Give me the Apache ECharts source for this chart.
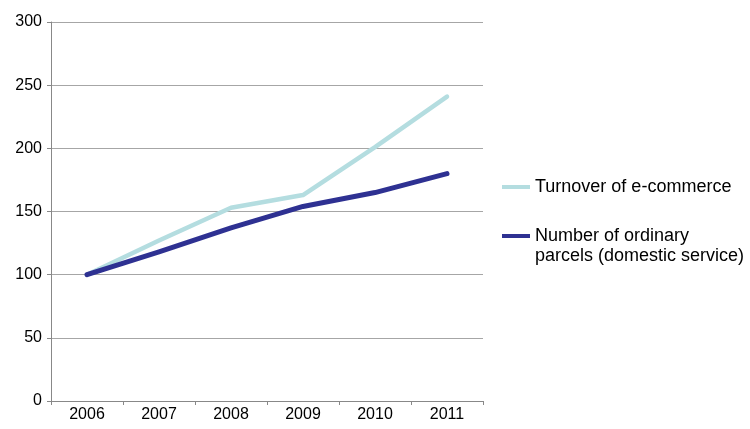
<!DOCTYPE html>
<html>
<head>
<meta charset="utf-8">
<script src="https://cdn.jsdelivr.net/npm/echarts@6/dist/echarts.min.js"></script>
<style>
  html, body { margin: 0; padding: 0; background: #fff; }
  #chart { width: 750px; height: 429px; }
</style>
</head>
<body>
<div id="chart"></div>
<script>
var years = ['2006', '2007', '2008', '2009', '2010', '2011'];
var turnover = [100, 127, 153, 163, 201, 241];
var parcels = [100, 118, 137, 154, 165, 180];

var chart = echarts.init(document.getElementById('chart'));

var font = 'Liberation Sans, Arial, sans-serif';

var option = {
    animation: false,
    grid: { left: 51, right: 267, top: 22, bottom: 28 },
    legend: [
        {
            data: ['Turnover of e-commerce'],
            left: 502, top: 178, padding: 0,
            itemWidth: 28, itemHeight: 4,
            icon: 'rect',
            textStyle: { fontFamily: font, fontSize: 18, color: '#000' }
        },
        {
            data: ['Number of ordinary parcels'],
            left: 502, top: 206, padding: 0,
            itemWidth: 28, itemHeight: 4,
            icon: 'rect',
            // blank first line keeps the icon level with "Number of ordinary"
            formatter: function () {
                return '\nNumber of ordinary\nparcels (domestic service)';
            },
            textStyle: { fontFamily: font, fontSize: 18, color: '#000', lineHeight: 20 }
        }
    ],
    xAxis: {
        type: 'category',
        data: years,
        boundaryGap: true,
        axisLine: { lineStyle: { color: '#888', width: 1 } },
        axisTick: { show: true, length: 4, lineStyle: { color: '#888' } },
        axisLabel: { fontFamily: font, fontSize: 16, color: '#000', margin: 6 },
        splitLine: { show: false }
    },
    yAxis: {
        type: 'value',
        min: 0, max: 300, interval: 50,
        axisLine: { show: true, lineStyle: { color: '#888', width: 1 } },
        axisTick: { show: true, length: 4, lineStyle: { color: '#888' } },
        axisLabel: { fontFamily: font, fontSize: 16, color: '#000', margin: 9 },
        splitLine: { lineStyle: { color: '#a6a6a6', width: 1 } }
    },
    series: [
        {
            name: 'Turnover of e-commerce',
            type: 'line',
            data: turnover,
            symbol: 'none',
            color: '#b4dde0',
            lineStyle: { width: 4.5, color: '#b4dde0', cap: 'round', join: 'round' }
        },
        {
            name: 'Number of ordinary parcels',
            type: 'line',
            data: parcels,
            symbol: 'none',
            color: '#2e3192',
            lineStyle: { width: 5, color: '#2e3192', cap: 'round', join: 'round' }
        }
    ]
};

chart.setOption(option);
</script>
</body>
</html>
